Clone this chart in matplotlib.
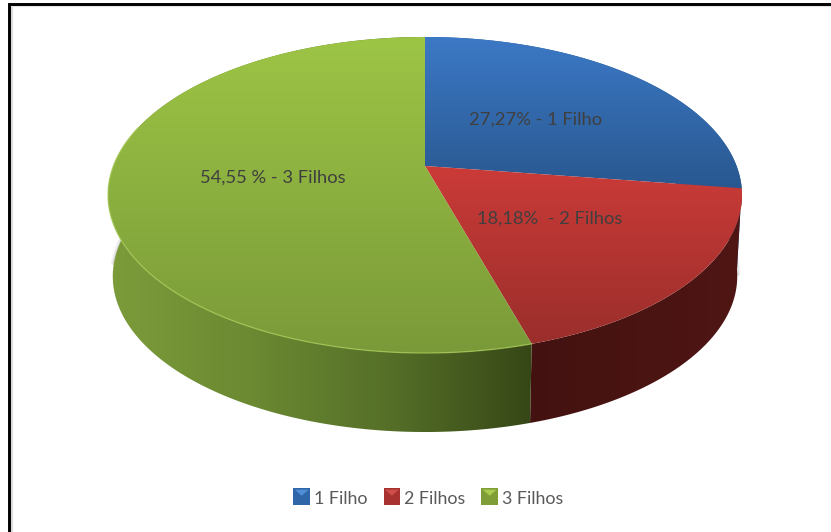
import numpy as np
import matplotlib
matplotlib.use("Agg")
import matplotlib.pyplot as plt
from matplotlib.colors import LinearSegmentedColormap as LSC
from matplotlib.patches import Polygon, Rectangle
from matplotlib.legend_handler import HandlerPatch

plt.rcParams['font.family'] = ['Lato', 'DejaVu Sans']

categories = ['1 Filho', '2 Filhos', '3 Filhos']
values = [27.27, 18.18, 54.55]
labels = ['27,27% - 1 Filho', '18,18%  - 2 Filhos', '54,55 % - 3 Filhos']
label_pos = [(536, 119.5), (549.5, 218.5), (273, 177.5)]
top_colors = [('#3c79c6', '#295890'), ('#cb3b38', '#9a2e2b'), ('#9dc545', '#7a9a39')]
wall_stops = [['#2a5a94', '#2a5a94'], ['#431210', '#4f1614'], ['#7c9c3b', '#6b8a32', '#556f28', '#364716']]
legend_colors = ['#2f66a8', '#a8322f', '#7f9e38']
legend_light = ['#4f8fd8', '#cf4f4b', '#a8cc50']

W, H = 831, 532
CX, CY = 425.0, 166.0
A, B, K = 311.6, 152.7, 0.1835
SHRINK, DROP = 0.985, 81.8


def top_pt(t):
    x, y = np.cos(t), np.sin(t)
    d = 1 + K * y
    return CX + A * x / d, CY - B * y / d


def bottom_pt(t):
    X, Y = top_pt(t)
    return CX + SHRINK * (X - CX), CY + SHRINK * (Y - CY) + DROP


fig = plt.figure(figsize=(W / 100, H / 100), dpi=100, facecolor='white')
ax = fig.add_axes([0, 0, 1, 1])
ax.set_xlim(0, W)
ax.set_ylim(H, 0)
ax.axis('off')


def gradient(colors, clip, vertical=True, z=2):
    cmap = LSC.from_list('g', colors)
    g = np.linspace(0, 1, 256)
    arr = g[:, None] if vertical else g[None, :]
    xs, ys = clip.get_xy()[:, 0], clip.get_xy()[:, 1]
    ext = (xs.min(), xs.max(), ys.max(), ys.min())
    im = ax.imshow(arr, cmap=cmap, extent=ext, origin='upper', aspect='auto',
                   zorder=z, interpolation='bilinear')
    clip.set_transform(ax.transData)
    im.set_clip_path(clip)


# soft shadow under the wall
tt = np.linspace(np.radians(-10), np.radians(186), 300)
bx, by = bottom_pt(tt)
for lw, a in [(5, 0.05), (3.5, 0.07), (2, 0.09)]:
    ax.plot(bx, by + 1, color='#555555', lw=lw, alpha=a, zorder=1,
            solid_capstyle='butt')

# angles from the values (clockwise from 12 o'clock)
fr = np.array(values) / sum(values)
edges = np.pi / 2 - 2 * np.pi * np.concatenate([[0], np.cumsum(fr)])

# walls
for i in range(len(values)):
    t = np.linspace(edges[i], edges[i + 1], 300)
    tx, ty = top_pt(t)
    bx, by = bottom_pt(t)
    poly = Polygon(np.column_stack([np.r_[tx, bx[::-1]], np.r_[ty, by[::-1]]]), closed=True)
    gradient(wall_stops[i], poly, vertical=False, z=2 + i * 0.1)

# tops
for i in range(len(values)):
    t = np.linspace(edges[i], edges[i + 1], 300)
    tx, ty = top_pt(t)
    poly = Polygon(np.column_stack([np.r_[CX, tx], np.r_[CY, ty]]), closed=True)
    gradient(list(top_colors[i]), poly, z=3)

# rim highlight along the front of the green slice only
t = np.linspace(edges[2], np.radians(-195), 400)
tx, ty = top_pt(t)
ax.plot(tx, ty, color='#a6ca55', lw=1.0, alpha=0.7, zorder=4)

# wedge labels
for s, (x, y) in zip(labels, label_pos):
    ax.text(x, y, s, ha='center', va='center', fontsize=13.2, color='#3f3f3f', zorder=6)


# legend
class Key(HandlerPatch):
    def create_artists(self, legend, orig, xd, yd, w, h, fs, trans):
        x0, y0, s = -xd, -yd - 1, 12
        sq = Rectangle((x0, y0), s, s, facecolor=orig.get_facecolor(), edgecolor='none', transform=trans)
        tri = Polygon([(x0 + 1, y0 + s - 1), (x0 + s - 1, y0 + s - 1), (x0 + s / 2, y0 + s * 0.55)],
                      closed=True, facecolor=orig.get_edgecolor(), edgecolor='none', transform=trans)
        return [sq, tri]


handles = [Rectangle((0, 0), 1, 1, facecolor=c, edgecolor=l, label=n)
           for c, l, n in zip(legend_colors, legend_light, categories)]
leg = ax.legend(handles=handles, ncol=3, loc='center', bbox_to_anchor=(428.5 / W, 1 - 498.5 / H),
                frameon=False, fontsize=12.8, labelcolor='#595959', handlelength=0.9,
                handleheight=0.7, handletextpad=0.28, columnspacing=0.88, borderpad=0,
                handler_map={Rectangle: Key()})
leg.set_zorder(6)

# frame: black at top and left, thin grey line inside
ax.plot([10.5, 10.5], [H, 5], color='#d8d8d8', lw=2, zorder=0, solid_capstyle='butt')
ax.plot([11, W], [6, 6], color='#e4e4e4', lw=1.5, zorder=0, solid_capstyle='butt')
ax.plot([9, 9, W], [H, 4, 4], color='black', lw=2.1, zorder=7, solid_joinstyle='miter',
        solid_capstyle='butt')

ax.set_xlim(0, W)
ax.set_ylim(H, 0)
fig.savefig('out.png', dpi=100)
